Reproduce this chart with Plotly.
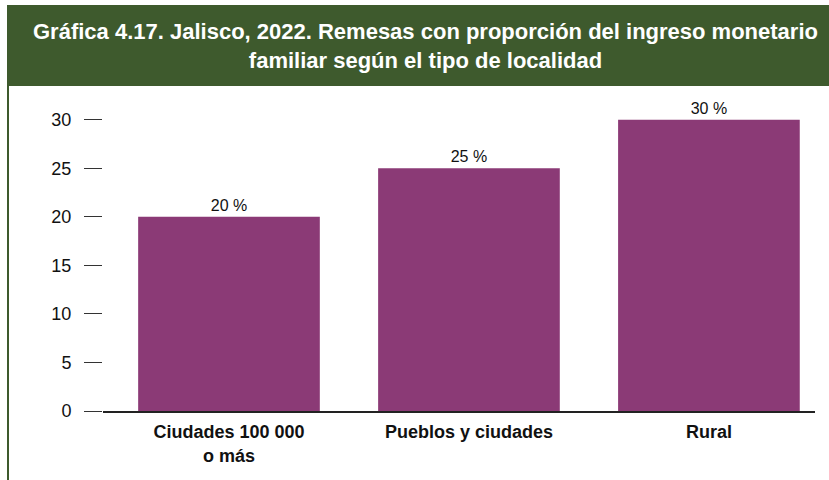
import plotly.graph_objects as go

# Datos: remesas como proporción del ingreso monetario familiar
categorias = ["Ciudades 100 000<br>o más", "Pueblos y ciudades", "Rural"]
valores = [20, 25, 30]
etiquetas = ["20 %", "25 %", "30 %"]
ticks_y = [0, 5, 10, 15, 20, 25, 30]

VERDE = "#3e5a2d"
MORADO = "#8b3a76"
FUENTE = "Liberation Sans, Arial, sans-serif"

fig = go.Figure(
    go.Bar(
        x=list(range(len(categorias))),
        y=valores,
        text=etiquetas,
        textposition="outside",
        textfont=dict(size=16, color="#111111", family=FUENTE),
        marker=dict(color=MORADO, line=dict(width=0)),
        width=0.757,
        cliponaxis=False,
        hoverinfo="skip",
    )
)

fig.update_layout(
    width=829,
    height=480,
    margin=dict(l=103, r=14, t=110, b=69),
    paper_bgcolor="white",
    plot_bgcolor="white",
    showlegend=False,
    font=dict(family=FUENTE, color="#111111"),
    xaxis=dict(
        range=[-0.525, 2.442],
        tickmode="array",
        tickvals=list(range(len(categorias))),
        ticktext=[f"<b>{c}</b>" for c in categorias],
        tickfont=dict(size=18, color="#111111", family=FUENTE),
        ticklabelstandoff=4,
        showline=True,
        linecolor="#222222",
        linewidth=1.5,
        ticks="",
        showgrid=False,
        zeroline=False,
        fixedrange=True,
    ),
    yaxis=dict(
        range=[0, 31],
        tickvals=ticks_y,
        tickfont=dict(size=18, color="#111111", family=FUENTE),
        ticks="outside",
        ticklen=18,
        tickwidth=1.3,
        tickcolor="#333333",
        ticklabelstandoff=9,
        showline=False,
        showgrid=False,
        zeroline=False,
        fixedrange=True,
    ),
    shapes=[
        # banda de encabezado
        dict(type="rect", xref="paper", yref="paper",
             x0=-96 / 712, x1=(829 - 103) / 712,
             y0=(480 - 69 - 86) / 301, y1=(480 - 69 - 5) / 301,
             fillcolor=VERDE, line=dict(width=0), layer="below"),
        # borde izquierdo del recuadro
        dict(type="line", xref="paper", yref="paper",
             x0=-95 / 712, x1=-95 / 712,
             y0=-69 / 301, y1=(480 - 69 - 86) / 301,
             line=dict(color=VERDE, width=2)),
    ],
    annotations=[
        dict(text="<b>Gráfica 4.17. Jalisco, 2022. Remesas con proporción del ingreso monetario<br>familiar según el tipo de localidad</b>",
             xref="paper", yref="paper",
             x=(425 - 103) / 712, y=(480 - 69 - 45.5) / 301,
             xanchor="center", yanchor="middle", showarrow=False,
             align="center",
             font=dict(size=22, color="white", family=FUENTE)),
    ],
)

fig.write_html("out.html")
